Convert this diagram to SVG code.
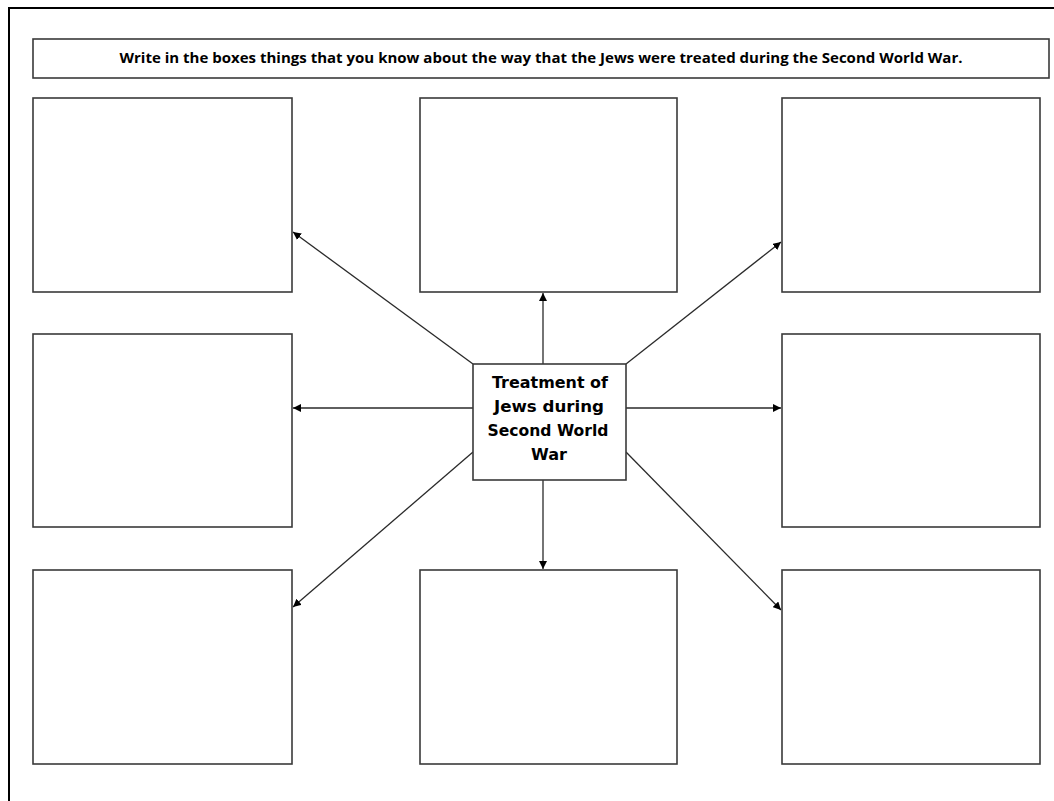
<svg xmlns="http://www.w3.org/2000/svg" width="1054" height="801" viewBox="0 0 1054 801">
  <style>
    .box { fill: #ffffff; stroke: #3a3a3a; stroke-width: 1.6; }
    .frame { fill: none; stroke: #000000; stroke-width: 2; }
    .link { stroke: #2a2a2a; stroke-width: 1.3; fill: none; marker-end: url(#head); }
    .title { font-family: "Open Sans", "Liberation Sans", Arial, sans-serif; font-weight: bold; font-size: 14px; fill: #000; }
    .hub { font-family: "DejaVu Sans", Verdana, sans-serif; font-weight: bold; font-size: 15px; fill: #000; }
  </style>
  <defs>
    <marker id="head" viewBox="0 0 10 10" refX="10" refY="5" markerWidth="8" markerHeight="8" markerUnits="userSpaceOnUse" orient="auto">
      <path d="M0,0 L10,5 L0,10 z" fill="#000"/>
    </marker>
  </defs>
  <rect width="1054" height="801" fill="#ffffff"/>

  <!-- page frame -->
  <path class="frame" d="M9,801 V8 H1054"/>

  <!-- instruction banner -->
  <g id="banner">
    <rect class="box" x="33" y="39" width="1016" height="39"/>
    <text class="title" x="541" y="63" text-anchor="middle" textLength="843" lengthAdjust="spacingAndGlyphs">Write in the boxes things that you know about the way that the Jews were treated during the Second World War.</text>
  </g>

  <!-- connectors from the hub -->
  <g id="connectors">
    <line class="link" x1="543" y1="364" x2="543" y2="293"/>
    <line class="link" x1="543" y1="480" x2="543" y2="569"/>
    <line class="link" x1="473" y1="408" x2="293" y2="408"/>
    <line class="link" x1="626" y1="408" x2="781" y2="408"/>
    <line class="link" x1="473" y1="364" x2="293" y2="232"/>
    <line class="link" x1="626" y1="364" x2="781" y2="242"/>
    <line class="link" x1="473" y1="452" x2="293" y2="607"/>
    <line class="link" x1="626" y1="452" x2="781" y2="610"/>
  </g>

  <!-- answer boxes -->
  <g id="box-top-left"><rect class="box" x="33" y="98" width="259" height="194"/></g>
  <g id="box-top-middle"><rect class="box" x="420" y="98" width="257" height="194"/></g>
  <g id="box-top-right"><rect class="box" x="782" y="98" width="258" height="194"/></g>
  <g id="box-mid-left"><rect class="box" x="33" y="334" width="259" height="193"/></g>
  <g id="box-mid-right"><rect class="box" x="782" y="334" width="258" height="193"/></g>
  <g id="box-bottom-left"><rect class="box" x="33" y="570" width="259" height="194"/></g>
  <g id="box-bottom-middle"><rect class="box" x="420" y="570" width="257" height="194"/></g>
  <g id="box-bottom-right"><rect class="box" x="782" y="570" width="258" height="194"/></g>

  <!-- central topic -->
  <g id="hub">
    <rect class="box" x="473" y="364" width="153" height="116"/>
    <text class="hub" x="550" y="388" text-anchor="middle" textLength="116" lengthAdjust="spacingAndGlyphs">Treatment of</text>
    <text class="hub" x="549" y="412" text-anchor="middle" textLength="110" lengthAdjust="spacingAndGlyphs">Jews during</text>
    <text class="hub" x="548" y="436" text-anchor="middle" textLength="121" lengthAdjust="spacingAndGlyphs">Second World</text>
    <text class="hub" x="549" y="460" text-anchor="middle" textLength="36" lengthAdjust="spacingAndGlyphs">War</text>
  </g>
</svg>
